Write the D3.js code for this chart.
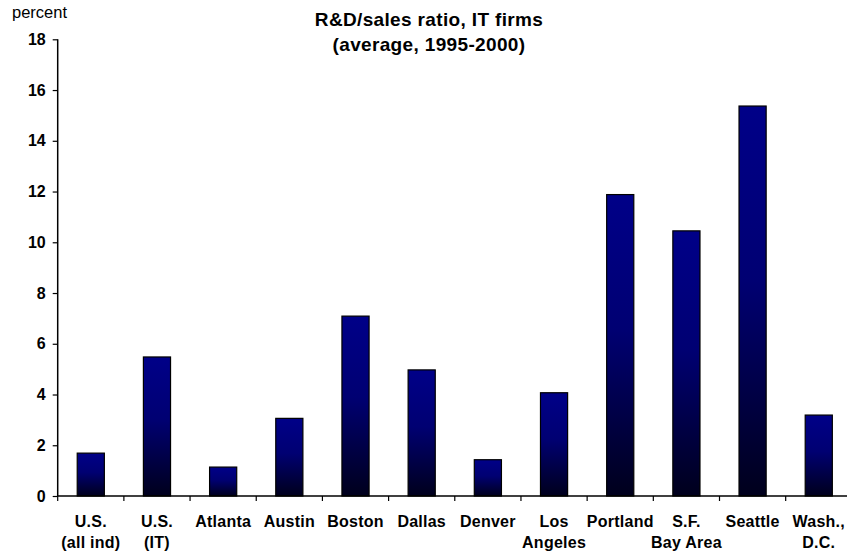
<!DOCTYPE html>
<html>
<head>
<meta charset="utf-8">
<script src="https://cdn.jsdelivr.net/npm/d3@7"></script>
<style>
html,body{margin:0;padding:0;background:#fff;}
svg{display:block;font-family:"Liberation Sans",Arial,sans-serif;}
</style>
</head>
<body>
<svg id="chart" width="847" height="555"></svg>
<script>
const categories = [["U.S.","(all ind)"],["U.S.","(IT)"],["Atlanta"],["Austin"],["Boston"],["Dallas"],["Denver"],["Los","Angeles"],["Portland"],["S.F.","Bay Area"],["Seattle"],["Wash.,","D.C."]];
const values = [1.69, 5.48, 1.14, 3.06, 7.09, 4.97, 1.43, 4.07, 11.88, 10.45, 15.37, 3.19];
const yTicks = [0,2,4,6,8,10,12,14,16,18];
const titleLines = ["R&D/sales ratio, IT firms","(average, 1995-2000)"];
const yLabel = "percent";

(function(){
const svg = d3.select("#chart");
const mLeft = 57.7, mBottom = 496, mTop = 39.3, step = 66.18;
const keys = categories.map((c,i)=>i);
const x = d3.scaleBand().domain(keys).range([mLeft, mLeft + step*categories.length]).paddingInner(0.59).paddingOuter(0.295);
const y = d3.scaleLinear().domain([0,18]).range([mBottom, mTop]);

const defs = svg.append("defs");
const grad = defs.append("linearGradient").attr("id","g").attr("x1",0).attr("y1",0).attr("x2",0).attr("y2",1);
grad.append("stop").attr("offset","0%").attr("stop-color","#000088");
grad.append("stop").attr("offset","45%").attr("stop-color","#000072");
grad.append("stop").attr("offset","100%").attr("stop-color","#00001c");

// bars
svg.append("g").selectAll("rect").data(values).join("rect")
  .attr("x",(d,i)=>x(i)).attr("width",x.bandwidth())
  .attr("y",d=>y(d)).attr("height",d=>mBottom-y(d))
  .attr("fill","url(#g)").attr("stroke","#000").attr("stroke-width",1.2);

// y axis
const yAxis = d3.axisLeft(y).tickValues(yTicks).tickSize(5).tickPadding(7).tickFormat(d3.format("d"));
const ya = svg.append("g").attr("transform",`translate(${mLeft},0)`).call(yAxis);
ya.select(".domain").attr("stroke","#000").attr("stroke-width",1.5).attr("d",`M0,${mTop}V${mBottom}`);
ya.selectAll(".tick line").attr("stroke","#000").attr("stroke-width",1.2);
ya.selectAll(".tick text").attr("font-size",16).attr("font-weight","bold").attr("fill","#000").attr("font-family","Liberation Sans, Arial, sans-serif");

// x axis: ticks at category boundaries
const boundaries = d3.range(categories.length+1).map(i=>mLeft+i*step);
svg.append("line").attr("x1",mLeft).attr("x2",847).attr("y1",mBottom).attr("y2",mBottom).attr("stroke","#000").attr("stroke-width",1.5);
svg.append("g").selectAll("line").data(boundaries).join("line")
  .attr("x1",d=>d).attr("x2",d=>d).attr("y1",mBottom).attr("y2",mBottom+5)
  .attr("stroke","#000").attr("stroke-width",1.2);

// x labels
const lab = svg.append("g").selectAll("text").data(categories).join("text")
  .attr("text-anchor","middle").attr("font-size",16).attr("font-weight","bold").attr("fill","#000")
  .attr("letter-spacing",0.25)
  .attr("transform",(d,i)=>`translate(${x(i)+x.bandwidth()/2},${mBottom+31})`);
lab.selectAll("tspan").data(d=>d).join("tspan").attr("x",0).attr("dy",(d,j)=>j===0?0:20.5).text(d=>d);

// title
svg.append("g").selectAll("text").data(titleLines).join("text")
  .attr("x",429).attr("y",(d,i)=>26+i*25).attr("text-anchor","middle")
  .attr("font-size",19).attr("font-weight","bold").attr("letter-spacing",0.35).attr("fill","#000").text(d=>d);

svg.append("text").attr("x",12).attr("y",17.5).attr("font-size",16.5).attr("fill","#000").text(yLabel);
})();
</script>
</body>
</html>
